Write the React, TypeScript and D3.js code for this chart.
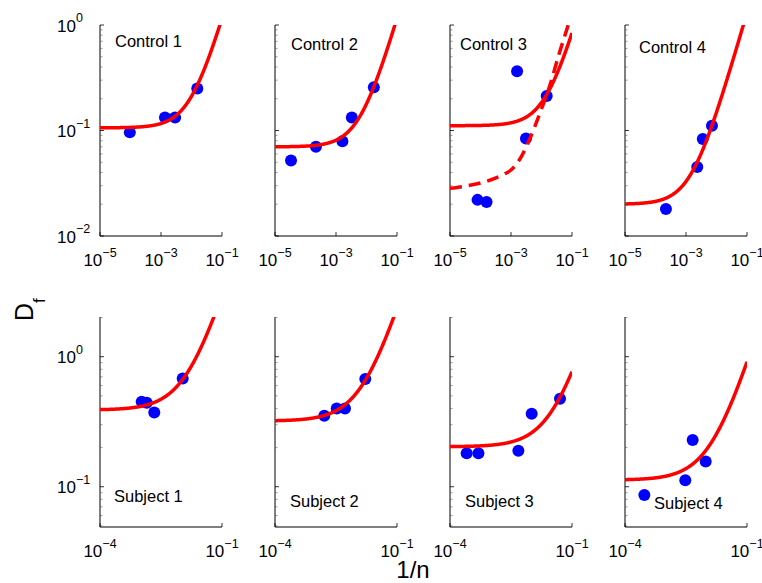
import React from 'react';
import * as d3 from 'd3';

// ---------- data ----------
const controlNames = ['Control 1', 'Control 2', 'Control 3', 'Control 4'];
const subjectNames = ['Subject 1', 'Subject 2', 'Subject 3', 'Subject 4'];

const control1X = [9.5e-5, 1.35e-3, 2.9e-3, 0.0155];
const control1Y = [0.096, 0.133, 0.133, 0.25];
const control2X = [3.35e-5, 2.2e-4, 1.62e-3, 3.3e-3, 0.0174];
const control2Y = [0.052, 0.07, 0.079, 0.133, 0.257];
const control3X = [8.0e-5, 1.58e-4, 1.58e-3, 3.1e-3, 0.0148];
const control3Y = [0.022, 0.021, 0.364, 0.084, 0.212];
const control4X = [2.2e-4, 2.34e-3, 3.55e-3, 7.1e-3];
const control4Y = [0.018, 0.045, 0.083, 0.111];

const subject1X = [1.06e-3, 1.41e-3, 2.16e-3, 0.0108];
const subject1Y = [0.45, 0.443, 0.373, 0.68];
const subject2X = [1.63e-3, 3.29e-3, 5.26e-3, 0.0166];
const subject2Y = [0.352, 0.4, 0.4, 0.673];
const subject3X = [2.57e-4, 5.0e-4, 4.8e-3, 0.0102, 0.0507];
const subject3Y = [0.181, 0.181, 0.189, 0.364, 0.475];
const subject4X = [2.99e-4, 3.04e-3, 4.61e-3, 9.64e-3];
const subject4Y = [0.0863, 0.112, 0.229, 0.156];

// fitted model D_f = plateau + slope * (1/n)
const controlPlateau = [0.106, 0.07, 0.111, 0.02];
const controlSlope = [10.5, 10.9, 7.3, 12.9];
const subjectPlateau = [0.389, 0.32, 0.203, 0.1125];
const subjectSlope = [25.9, 20.4, 5.64, 8.0];

// alternative (dashed) fit in Control 3
const control3AltX = [1e-5, 6.31e-4, 1.0e-3, 1.87e-3, 3.98e-3, 9.64e-3, 0.0182, 0.0383, 0.0724, 0.126];
const control3AltY = [0.0283, 0.0389, 0.0422, 0.0525, 0.0813, 0.156, 0.26, 0.54, 0.964, 1.58];

const topXDomain = [1e-5, 1e-1];
const topYDomain = [1e-2, 1];
const bottomXDomain = [1e-4, 1e-1];
const bottomYDomain = [0.049, 2.02];
const topXTicks = [1e-5, 1e-3, 1e-1];
const bottomXTicks = [1e-4, 1e-1];
const topYTicks = [1e-2, 1e-1, 1];
const bottomYTicks = [1e-1, 1];

const yAxisTitle = 'D';
const yAxisSub = 'f';
const xAxisTitle = '1/n';

// ---------- layout ----------
const W = 762;
const H = 583;
const panelLefts = [100, 275, 450, 625];
const panelWidth = 122;
const topRow = { top: 25, bottom: 236 };
const bottomRow = { top: 317, bottom: 527 };
const controlLabelPos = [[115, 46.5], [291, 49.5], [460, 50], [639, 53]];
const subjectLabelPos = [[114, 501.5], [290, 506.5], [465, 506.5], [654, 509]];
const FONT = '"Liberation Sans", Arial, Helvetica, sans-serif';
const RED = '#ff0000';
const BLUE = '#0000ff';

const controlXs = [control1X, control2X, control3X, control4X];
const controlYs = [control1Y, control2Y, control3Y, control4Y];
const subjectXs = [subject1X, subject2X, subject3X, subject4X];
const subjectYs = [subject1Y, subject2Y, subject3Y, subject4Y];

function expLabel(v: number) {
  const e = Math.round(Math.log10(v));
  return e < 0 ? '\u2212' + Math.abs(e) : String(e);
}

function minorTicks(domain: number[]) {
  const out: number[] = [];
  const lo = Math.floor(Math.log10(domain[0]));
  const hi = Math.ceil(Math.log10(domain[1]));
  for (let e = lo; e < hi; e++) {
    for (let m = 2; m <= 9; m++) {
      const v = m * Math.pow(10, e);
      if (v >= domain[0] && v <= domain[1]) out.push(v);
    }
  }
  return out;
}

type PanelProps = {
  id: string;
  left: number;
  row: { top: number; bottom: number };
  xDomain: number[];
  yDomain: number[];
  xTicks: number[];
  yTicks: number[];
  showYLabels: boolean;
  xs: number[];
  ys: number[];
  plateau: number;
  slope: number;
  label: string;
  labelPos: number[];
  altX?: number[];
  altY?: number[];
};

function Panel(p: PanelProps) {
  const x = d3.scaleLog().domain(p.xDomain).range([p.left, p.left + panelWidth]);
  const y = d3.scaleLog().domain(p.yDomain).range([p.row.bottom, p.row.top]);
  const lo = Math.log10(p.xDomain[0]);
  const hi = Math.log10(p.xDomain[1]);
  const curveX = d3.range(0, 301).map((i) => Math.pow(10, lo + ((hi - lo) * i) / 300));
  const curvePts = curveX.map((v) => [v, p.plateau + p.slope * v] as [number, number]);
  const line = d3
    .line<[number, number]>()
    .x((d) => x(d[0]))
    .y((d) => y(d[1]));
  const altLine = d3
    .line<[number, number]>()
    .x((d) => x(d[0]))
    .y((d) => y(d[1]))
    .curve(d3.curveMonotoneX);
  const altPts = p.altX && p.altY ? p.altX.map((v, i) => [v, p.altY![i]] as [number, number]) : null;
  const minors = minorTicks(p.yDomain);
  return (
    <g>
      <defs>
        <clipPath id={p.id}>
          <rect x={p.left} y={p.row.top} width={panelWidth} height={p.row.bottom - p.row.top} />
        </clipPath>
      </defs>
      {/* axes */}
      <line x1={p.left} x2={p.left} y1={p.row.top} y2={p.row.bottom} stroke="#000" strokeWidth={1} />
      <line x1={p.left} x2={p.left + panelWidth} y1={p.row.bottom} y2={p.row.bottom} stroke="#000" strokeWidth={1} />
      {minors.map((v, i) => (
        <line key={'m' + i} x1={p.left} x2={p.left + 2.5} y1={y(v)} y2={y(v)} stroke="#555" strokeWidth={0.6} />
      ))}
      {p.yTicks.map((v, i) => (
        <line key={'yt' + i} x1={p.left} x2={p.left + 4} y1={y(v)} y2={y(v)} stroke="#000" strokeWidth={0.8} />
      ))}
      {p.xTicks.map((v, i) => (
        <line key={'xt' + i} x1={x(v)} x2={x(v)} y1={p.row.bottom} y2={p.row.bottom - 4} stroke="#000" strokeWidth={0.8} />
      ))}
      {p.xTicks.map((v, i) => (
        <text key={'xl' + i} x={x(v)} y={p.row.bottom + 30} textAnchor="middle" fontFamily={FONT} fontSize={17} fill="#000">
          10
          <tspan dy={-9.5} fontSize={12.5}>{expLabel(v)}</tspan>
        </text>
      ))}
      {p.showYLabels &&
        p.yTicks.map((v, i) => (
          <text key={'yl' + i} x={57} y={y(v) + 6.5} textAnchor="start" fontFamily={FONT} fontSize={17} fill="#000">
            10
            <tspan dy={-9.5} fontSize={12.5}>{expLabel(v)}</tspan>
          </text>
        ))}
      {/* points */}
      {p.xs.map((v, i) => (
        <circle key={'c' + i} cx={x(v)} cy={y(p.ys[i])} r={6} fill={BLUE} />
      ))}
      {/* fits */}
      <g clipPath={`url(#${p.id})`}>
        {altPts && (
          <path d={altLine(altPts) || ''} fill="none" stroke={RED} strokeWidth={3.5} strokeDasharray="12 7" />
        )}
        <path d={line(curvePts) || ''} fill="none" stroke={RED} strokeWidth={3.5} strokeLinejoin="round" />
      </g>
      <text x={p.labelPos[0]} y={p.labelPos[1]} fontFamily={FONT} fontSize={16.5} fill="#000">
        {p.label}
      </text>
    </g>
  );
}

export default function App() {
  return (
    <svg
      width={W}
      height={H}
      viewBox={`0 0 ${W} ${H}`}
      style={{ position: 'absolute', left: 0, top: 0, background: '#fff' }}
    >
      <rect x={0} y={0} width={W} height={H} fill="#fff" />
      {controlNames.map((name, i) => (
        <Panel
          key={name}
          id={'clipC' + i}
          left={panelLefts[i]}
          row={topRow}
          xDomain={topXDomain}
          yDomain={topYDomain}
          xTicks={topXTicks}
          yTicks={topYTicks}
          showYLabels={i === 0}
          xs={controlXs[i]}
          ys={controlYs[i]}
          plateau={controlPlateau[i]}
          slope={controlSlope[i]}
          label={name}
          labelPos={controlLabelPos[i]}
          altX={i === 2 ? control3AltX : undefined}
          altY={i === 2 ? control3AltY : undefined}
        />
      ))}
      {subjectNames.map((name, i) => (
        <Panel
          key={name}
          id={'clipS' + i}
          left={panelLefts[i]}
          row={bottomRow}
          xDomain={bottomXDomain}
          yDomain={bottomYDomain}
          xTicks={bottomXTicks}
          yTicks={bottomYTicks}
          showYLabels={i === 0}
          xs={subjectXs[i]}
          ys={subjectYs[i]}
          plateau={subjectPlateau[i]}
          slope={subjectSlope[i]}
          label={name}
          labelPos={subjectLabelPos[i]}
        />
      ))}
      <text
        transform="translate(33,321) rotate(-90)"
        fontFamily={FONT}
        fontSize={25}
        fill="#000"
      >
        {yAxisTitle}
        <tspan dy={12} fontSize={17}>{yAxisSub}</tspan>
      </text>
      <text x={413} y={578} textAnchor="middle" fontFamily={FONT} fontSize={24} fill="#000">
        {xAxisTitle}
      </text>
    </svg>
  );
}
